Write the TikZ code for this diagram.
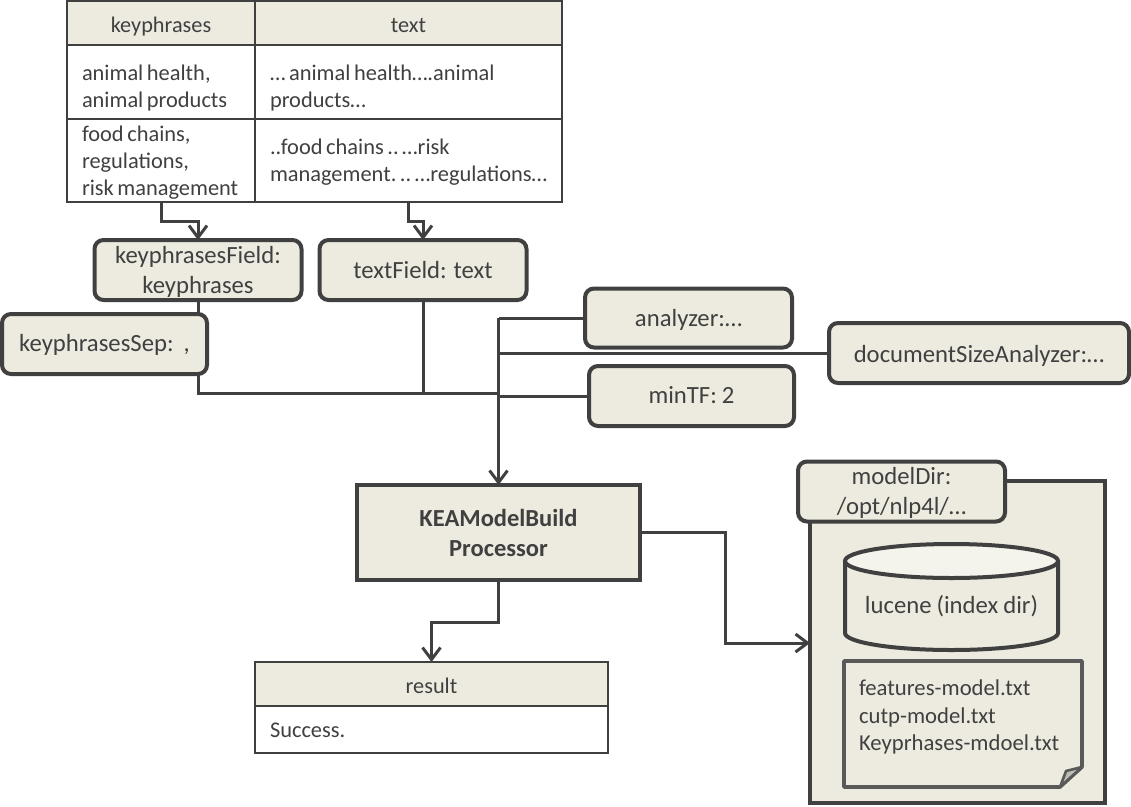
\documentclass[tikz,border=0pt]{standalone}
\usepackage{fontspec}
\setmainfont[WordSpace=0.9]{Carlito}
\usetikzlibrary{arrows.meta}
\definecolor{ink}{HTML}{404040}
\definecolor{pane}{HTML}{EDEBE0}
\definecolor{lid}{HTML}{F4F3EC}
\definecolor{notec}{HTML}{595959}
\definecolor{foldc}{HTML}{BDBCB3}
\newcommand{\nudged}[3]{\raisebox{-#1pt}[\height][\depth]{\begin{tabular}{@{}#2@{}}#3\end{tabular}}}
\newcommand{\celltext}[2]{\raisebox{-#1pt}[\height][\depth]{\spaceskip=.16em\xspaceskip=.16em\begin{tabular}{@{}l@{}}#2\end{tabular}}}
\tikzset{
  x=1pt,y=-1pt,
  every node/.style={text=ink,inner sep=0pt,outer sep=0pt},
  boxnode/.style={draw=ink,fill=pane,line width=4pt,rounded corners=9pt,align=center,font=\fontsize{24.7}{30}\selectfont},
  headcell/.style={draw=ink,fill=pane,line width=2pt,align=center,font=\fontsize{22.3}{27}\selectfont},
  bodycell/.style={draw=ink,fill=white,line width=2pt,align=left,font=\fontsize{22.4}{27}\selectfont},
  wire/.style={draw=ink,line width=3pt},
  arrowwire/.style={wire,-{Straight Barb[length=12pt,width=18pt,line width=3pt]}},
}
\begin{document}
\begin{tikzpicture}
\useasboundingbox (0,0) rectangle (1131,806);

\coordinate (jA) at (198,393);
\coordinate (jT) at (423,393);
\coordinate (jM) at (498.5,393);
\coordinate (jTop) at (498.5,318);
\coordinate (jDoc) at (498.5,353);
\coordinate (jMin) at (498.5,396);

% table
\node[headcell,minimum width=188pt,minimum height=44pt] (hK) at (161,23) {\nudged{4}{c}{keyphrases}};
\node[headcell,minimum width=307pt,minimum height=44pt] (hT) at (408.5,23) {\nudged{4}{c}{text}};
\node[bodycell,minimum width=188pt,minimum height=74pt,text width=158pt] (c1) at (161,82) {\celltext{6.5}{animal health,\\animal products}};
\node[bodycell,minimum width=307pt,minimum height=74pt,text width=277pt] (c2) at (408.5,82) {\celltext{6.5}{… animal health….animal\\products…}};
\node[bodycell,minimum width=188pt,minimum height=83pt,text width=158pt] (c3) at (161,160.5) {\celltext{3}{food chains,\\regulations,\\risk management}};
\node[bodycell,minimum width=307pt,minimum height=83pt,text width=277pt] (c4) at (408.5,160.5) {\celltext{2}{..food chains .. …risk\\management. .. …regulations…}};

% boxes
\node[boxnode,minimum width=207pt,minimum height=60pt] (kf) at (198,270) {\nudged{2.5}{c}{keyphrasesField:\\keyphrases}};
\node[boxnode,minimum width=207pt,minimum height=60pt] (tf) at (423,270) {textField: text};
\node[boxnode,minimum width=207pt,minimum height=59pt] (an) at (688.5,318) {\nudged{2}{c}{analyzer:…}};
\node[boxnode,minimum width=300pt,minimum height=60pt] (ds) at (979,353) {\nudged{3}{c}{documentSizeAnalyzer:…}};
\node[boxnode,minimum width=205pt,minimum height=60pt] (mt) at (691.5,396) {\nudged{1}{c}{minTF: 2}};

% connectors
\draw[arrowwire] (c3.south) |- (198,221) -- (kf.north);
\draw[arrowwire] (c4.south) |- (423,221) -- (tf.north);
\draw[wire] (kf.south) -- (jA) -- (jM);
\draw[wire] (tf.south) -- (jT);
\draw[wire] (an.west) -- (jTop);
\draw[wire] (ds.west) -- (jDoc);
\draw[wire] (mt.west) -- (jMin);

\node[boxnode,minimum width=205pt,minimum height=60pt] (ks) at (104.5,344) {\nudged{1}{c}{keyphrasesSep:~~,}};

% processor
\node[draw=ink,fill=pane,line width=4pt,minimum width=283pt,minimum height=95pt,align=center,font=\fontsize{24.5}{30}\bfseries\selectfont] (kea) at (498.5,532.5) {KEAModelBuild\\Processor};
\draw[arrowwire] (jTop) -- (kea.north);

% result table
\node[headcell,minimum width=353pt,minimum height=44pt] (rh) at (431.5,684) {\nudged{4}{c}{result}};
\node[bodycell,minimum width=353pt,minimum height=47pt,text width=323pt] (rb) at (431.5,729.5) {\nudged{3}{l}{Success.}};
\draw[arrowwire] (kea.south) -- (498.5,622) -- (431.5,622) -- (rh.north);

% model dir
\node[draw=ink,fill=pane,line width=4pt,minimum width=295pt,minimum height=322pt] (md) at (957.5,642) {};
\draw[arrowwire] (kea.east) -- (725,532.5) -- (725,643) -- (md.west |- 0,643);
\node[boxnode,minimum width=207pt,minimum height=59pt] (mdt) at (901.5,491.5) {\nudged{2}{c}{modelDir:\\/opt/nlp4l/…}};

% cylinder
\draw[draw=ink,fill=pane,line width=4pt] (845,561) -- (845,633) arc[start angle=180,end angle=360,x radius=106.5pt,y radius=17pt] -- (1058,561);
\draw[draw=ink,fill=lid,line width=4pt] (951.5,561) ellipse[x radius=106.5pt,y radius=17pt];
\node[font=\fontsize{24.7}{30}\selectfont] (cyl) at (951.5,606) {lucene (index dir)};

% note
\draw[draw=notec,fill=pane,line width=3.6pt,line join=round] (844,661) -- (1082,661) -- (1082,767) -- (1060,787) -- (844,787) -- cycle;
\draw[draw=notec,fill=foldc,line width=2.6pt,line join=round] (1060,787) -- (1066,771) -- (1082,767) -- cycle;
\node[anchor=north west,align=left,font=\fontsize{22.7}{27.5}\selectfont] (nt) at (859,680) {features-model.txt\\cutp-model.txt\\Keyprhases-mdoel.txt};
\end{tikzpicture}
\end{document}
